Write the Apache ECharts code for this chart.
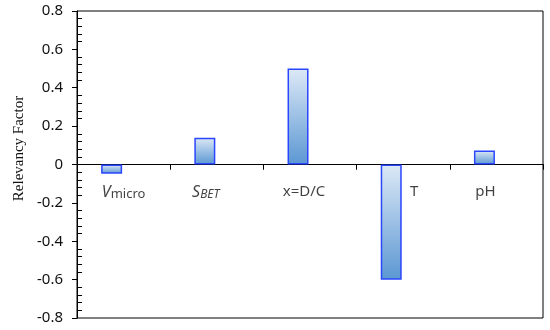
<!DOCTYPE html>
<html><head><meta charset="utf-8">
<script src="https://cdn.jsdelivr.net/npm/echarts@6/dist/echarts.min.js"></script>
<style>html,body{margin:0;padding:0;background:#fff}#c{width:550px;height:330px}</style>
</head><body><div id="c"></div>
<script>
const categories = ['Vmicro', 'SBET', 'x=D/C', 'T', 'pH'];
const relevancy = [-0.048, 0.14, 0.50, -0.60, 0.073];
const yTicks = [-0.8, -0.6, -0.4, -0.2, 0, 0.2, 0.4, 0.6, 0.8];

const labelRich = {
  vi: {fontFamily: 'Noto Sans', fontStyle: 'italic', fontSize: 16, color: '#111'},
  vs: {fontFamily: 'Noto Sans', fontSize: 13, color: '#111', padding: [3,0,0,0]},
  si: {fontFamily: 'Noto Sans', fontStyle: 'italic', fontSize: 16, color: '#111'},
  ss: {fontFamily: 'Noto Sans', fontStyle: 'italic', fontSize: 12, color: '#111', padding: [4,22,0,0]},
  n: {fontFamily: 'Noto Sans', fontSize: 15, color: '#111', padding: [0,12,0,0]},
  t: {fontFamily: 'Noto Sans', fontSize: 15, color: '#111', padding: [0,0,0,22]},
  p: {fontFamily: 'Noto Sans', fontSize: 15, color: '#111', padding: [0,22,0,0]}
};
function fmt(v) {
  if (v === 'Vmicro') return '{vi|V}{vs|micro}';
  if (v === 'SBET') return '{si|S}{ss|BET}';
  if (v === 'x=D/C') return '{n|x=D/C}';
  if (v === 'T') return '{t|T}';
  if (v === 'pH') return '{p|pH}';
  return v;
}

const chart = echarts.init(document.getElementById('c'), null, {renderer: 'canvas'});
chart.setOption({
  animation: false,
  grid: {left: 77, right: 7, top: 11, bottom: 12, outerBoundsMode: 'none', containLabel: false,
    show: true, borderColor: '#000', borderWidth: 1, backgroundColor: 'transparent'},
  xAxis: [{
    type: 'category', data: categories, position: 'bottom',
    axisLine: {onZero: true, lineStyle: {color: '#000', width: 1}},
    axisTick: {show: true, length: 5, lineStyle: {color: '#000'}},
    axisLabel: {show: false}
  }, {
    type: 'category', data: categories, position: 'top',
    axisLine: {onZero: true, lineStyle: {color: '#000', width: 1}},
    axisTick: {show: true, inside: true, length: 5, lineStyle: {color: '#000'}},
    axisLabel: {show: false}
  }],
  yAxis: [{
    type: 'value', min: -0.8, max: 0.8, interval: 0.2,
    name: 'Relevancy Factor', nameLocation: 'middle', nameGap: 46,
    nameTextStyle: {fontFamily: 'Liberation Serif', fontSize: 15, color: '#111', padding: [0, 0, 0, 32]},
    axisLine: {show: true, lineStyle: {color: '#000'}},
    axisTick: {show: true, length: 5, lineStyle: {color: '#000'}},
    axisLabel: {fontFamily: 'Noto Sans', fontSize: 15, color: '#111', margin: 14,
      formatter: v => { const t = yTicks.find(x => Math.abs(x - v) < 1e-9); return t === undefined ? '' : String(t); }},
    splitLine: {show: false}
  }, {
    type: 'value', min: -0.8, max: 0.8, interval: 0.2, position: 'left',
    axisLine: {show: false},
    axisTick: {show: false, inside: true},
    minorTick: {show: true, splitNumber: 5, length: 5, lineStyle: {color: '#000'}},
    axisLabel: {show: false}, splitLine: {show: false}
  }],
  series: [{
    type: 'bar', data: relevancy, xAxisIndex: 0, yAxisIndex: 0,
    barWidth: 21, barGap: '14%',
    itemStyle: {
      borderColor: '#2a46ff', borderWidth: 1.5,
      color: new echarts.graphic.LinearGradient(0, 0, 0, 1, [
        {offset: 0, color: '#dde9f6'}, {offset: 1, color: '#5b97d3'}
      ])
    }
  }, {
    type: 'bar', data: categories.map(() => null), xAxisIndex: 0, yAxisIndex: 0, barWidth: 21
  }, {
    type: 'scatter', xAxisIndex: 0, yAxisIndex: 0, symbolSize: 0, silent: true,
    data: categories.map(c => [c, 0]),
    label: {show: true, position: 'bottom', distance: 20, rich: labelRich,
      formatter: p => fmt(p.data[0])}
  }]
});
</script></body></html>
